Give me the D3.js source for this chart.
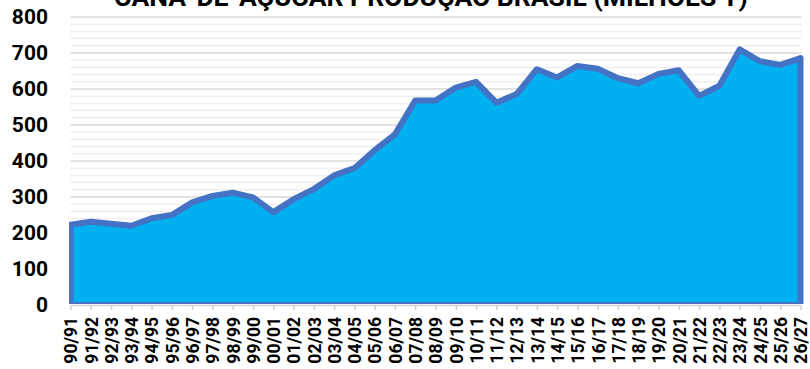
<!DOCTYPE html>
<html>
<head>
<meta charset="utf-8">
<script src="https://cdn.jsdelivr.net/npm/d3@7"></script>
<style>
  html, body { margin: 0; padding: 0; background: #fff; }
  svg { display: block; }
</style>
</head>
<body>
<svg id="chart" width="810" height="369"></svg>
<script>
const title = "CANA-DE-AÇÚCAR PRODUÇÃO BRASIL (MILHÕES T)";
const categories = ["90/91","91/92","92/93","93/94","94/95","95/96","96/97","97/98","98/99","99/00",
  "00/01","01/02","02/03","03/04","04/05","05/06","06/07","07/08","08/09","09/10",
  "10/11","11/12","12/13","13/14","14/15","15/16","16/17","17/18","18/19","19/20",
  "20/21","21/22","22/23","23/24","24/25","25/26","26/27"];
const production = [223, 231, 226, 220, 241, 250, 285, 303, 312, 299,
  258, 294, 322, 360, 380, 430, 474, 568, 568, 604,
  620, 562, 586, 655, 632, 664, 656, 630, 616, 642,
  652, 581, 609, 710, 677, 667, 686];
const yTicks = [0, 100, 200, 300, 400, 500, 600, 700, 800];
const yMinorTicks = d3.range(0, 801, 20);

const svg = d3.select("#chart");
const plotLeft = 70.5, plotRight = 800.5, plotTop = 17, plotBottom = 305;

const x = d3.scalePoint().domain(categories).range([plotLeft, plotRight]);
const y = d3.scaleLinear().domain([0, 800]).range([plotBottom, plotTop]);

// minor gridlines
svg.append("g").selectAll("line").data(yMinorTicks.filter(v => v % 100 !== 0)).join("line")
  .attr("x1", plotLeft).attr("x2", plotRight + 1)
  .attr("y1", d => y(d)).attr("y2", d => y(d))
  .attr("stroke", "#efefef").attr("stroke-width", 1.5);
// major gridlines
svg.append("g").selectAll("line").data(yTicks.filter(v => v > 0)).join("line")
  .attr("x1", plotLeft).attr("x2", plotRight + 1)
  .attr("y1", d => y(d)).attr("y2", d => y(d))
  .attr("stroke", "#d9d9d9").attr("stroke-width", 1.5);

// clip
svg.append("defs").append("clipPath").attr("id", "plotclip")
  .append("rect").attr("x", 69).attr("y", 0).attr("width", 741).attr("height", plotBottom - 1);

const area = d3.area()
  .x((d, i) => x(categories[i]))
  .y0(y(0))
  .y1(d => y(d));

svg.append("path")
  .datum(production)
  .attr("clip-path", "url(#plotclip)")
  .attr("d", area)
  .attr("fill", "#00B0F0")
  .attr("stroke", "#4472C4")
  .attr("stroke-width", 6)
  .attr("stroke-linejoin", "round");

// x axis
const xAxis = d3.axisBottom(x).tickSize(5).tickSizeOuter(0).tickPadding(8);
const gx = svg.append("g").attr("transform", `translate(0,${plotBottom})`).call(xAxis);
gx.select(".domain").attr("stroke", "#d0d0d0").attr("stroke-width", 1.5);
gx.selectAll(".tick line").attr("stroke", "#d0d0d0").attr("stroke-width", 1.5);
gx.selectAll(".tick text")
  .attr("transform", "rotate(-90)")
  .attr("x", -12).attr("y", 0).attr("dy", "0.36em")
  .attr("text-anchor", "end")
  .attr("fill", "#000")
  .style("font-family", "Roboto, sans-serif")
  .style("font-weight", "700")
  .style("font-size", "17.5px");

// y axis labels
const yAxis = d3.axisLeft(y).tickValues(yTicks).tickSize(0).tickPadding(0);
const gy = svg.append("g").attr("transform", `translate(48,0)`).call(yAxis);
gy.select(".domain").remove();
gy.selectAll(".tick text")
  .attr("fill", "#000")
  .style("font-family", "Roboto, sans-serif")
  .style("font-weight", "700")
  .style("font-size", "21px");

// title
svg.append("text")
  .attr("x", 431).attr("y", 6)
  .attr("text-anchor", "middle")
  .style("font-family", "Roboto, sans-serif")
  .style("font-weight", "700")
  .style("font-size", "26.5px")
  .attr("fill", "#000")
  .text(title);
</script>
</body>
</html>
